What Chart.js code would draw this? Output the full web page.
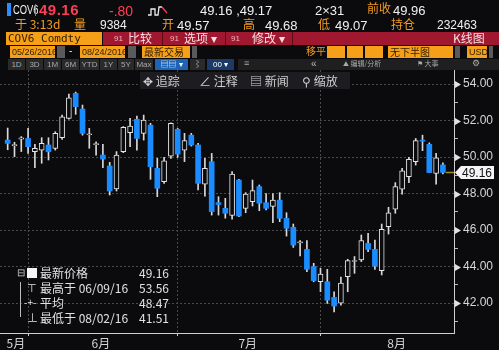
<!DOCTYPE html>
<html>
<head>
<meta charset="utf-8">
<script src="https://cdn.jsdelivr.net/npm/chart.js@4.4.0/dist/chart.umd.min.js"></script>
<style>
  body { margin: 0; background: #000; width: 499px; height: 350px; overflow: hidden; position: relative;
         font-family: "Liberation Sans", "Noto Sans CJK SC", sans-serif; }
  #box { position: absolute; left: 0; top: 0; width: 499px; height: 350px; }
  .t { position: absolute; white-space: nowrap; line-height: 1; }
  .o { color: #f39c1f; }
  .w { color: #f0f0f0; }
  .r { color: #ff3d55; }
  .cj { font-family: "Noto Sans CJK SC", sans-serif; }
  .amb { position: absolute; background: #f6a01a; color: #2e1d00; font-size: 9px; line-height: 12px; height: 12px; padding-left: 2px; box-sizing: border-box; white-space: nowrap; overflow: hidden; }
  .gr { position: absolute; background: #5a5a5a; height: 12px; }
  .btn { position: absolute; top: 59px; height: 11px; background: #2a2a2a; color: #a8a8a8; font-size: 8px; line-height: 11px; text-align: center; }
  .tool { position: absolute; top: 72px; height: 17px; background: #1d1d21; color: #cfcfcf; font-size: 12px; line-height: 17px; white-space: nowrap; }
  .lg { position: absolute; left: 15px; width: 154px; height: 15px; line-height: 15px; font-size: 12px; color: #e2e2e2; font-family: "Noto Sans CJK SC", sans-serif; white-space: nowrap; }
  .lg .v { position: absolute; right: 0; top: 0; }
  .lg .k { position: absolute; left: 25px; top: 0; }
</style>
</head>
<body>
<div id="box"><canvas id="chart"></canvas></div>

<!-- header row 1 -->
<div class="t" style="left:7px;top:3px;width:4px;height:13px;background:#2b8cff"></div>
<div class="t w" style="left:13px;top:4px;font-size:12px;transform:scaleX(0.78);transform-origin:left">COV6</div>
<div class="t" style="left:34px;top:3px;font-size:12px;color:#888">|</div>
<div class="t r" style="left:39px;top:2px;font-size:15px;font-weight:bold;letter-spacing:0.5px">49.16</div>
<div class="t r" style="left:109px;top:4px;font-size:14px">-.80</div>
<svg class="t" style="left:147px;top:4px" width="24" height="13"><polyline points="1,11 4,11 4,5 8,5 8,11 11,11 12,3 15,3" fill="none" stroke="#eee" stroke-width="1.3"/><polyline points="15,3 20,9" fill="none" stroke="#ff3d55" stroke-width="1.3"/></svg>
<div class="t w" style="left:200px;top:4px;font-size:13px">49.16 ,49.17</div>
<div class="t w" style="left:315px;top:4px;font-size:13px">2×31</div>
<div class="t o cj" style="left:367px;top:2px;font-size:12px">前收</div>
<div class="t w" style="left:393px;top:4px;font-size:13px">49.96</div>

<!-- header row 2 -->
<div class="t o cj" style="left:15px;top:18px;font-size:12px">于 3:13d</div>
<div class="t o cj" style="left:74px;top:18px;font-size:12px">量</div>
<div class="t w" style="left:100px;top:19px;font-size:12px">9384</div>
<div class="t o cj" style="left:162px;top:18px;font-size:12px">开</div>
<div class="t w" style="left:177px;top:19px;font-size:13px">49.57</div>
<div class="t o cj" style="left:243px;top:18px;font-size:12px">高</div>
<div class="t w" style="left:265px;top:19px;font-size:13px">49.68</div>
<div class="t o cj" style="left:318px;top:18px;font-size:12px">低</div>
<div class="t w" style="left:335px;top:19px;font-size:13px">49.07</div>
<div class="t o cj" style="left:391px;top:18px;font-size:12px">持仓</div>
<div class="t w" style="left:437px;top:19px;font-size:12px">232463</div>

<!-- header row 3 -->
<div class="amb" style="left:6px;top:32px;width:96px;height:13px;line-height:13px;font-size:11px;font-family:'DejaVu Sans Mono',monospace">COV6 Comdty</div>
<div class="t" style="left:103px;top:32px;width:396px;height:13px;background:#a01830"></div>
<div class="t" style="left:162px;top:32px;width:1px;height:13px;background:#5c0a18"></div>
<div class="t" style="left:225px;top:32px;width:1px;height:13px;background:#5c0a18"></div>
<div class="t" style="left:292px;top:32px;width:1px;height:13px;background:#5c0a18"></div>
<div class="t" style="left:114px;top:35px;font-size:8px;color:#f2b3bb">91</div>
<div class="t cj" style="left:128px;top:32px;font-size:12px;color:#f6dfe3">比较</div>
<div class="t" style="left:170px;top:35px;font-size:8px;color:#f2b3bb">91</div>
<div class="t cj" style="left:184px;top:32px;font-size:12px;color:#f6dfe3">选项 ▾</div>
<div class="t" style="left:231px;top:35px;font-size:8px;color:#f2b3bb">91</div>
<div class="t cj" style="left:252px;top:32px;font-size:12px;color:#f6dfe3">修改 ▾</div>
<div class="t cj" style="left:453px;top:32px;font-size:12px;color:#f6dfe3">K线图</div>

<!-- header row 4 -->
<div class="amb" style="left:10px;top:46px;width:45px">05/26/2016</div>
<div class="gr" style="left:57px;top:46px;width:8px"></div>
<div class="t w" style="left:69px;top:46px;font-size:10px">-</div>
<div class="amb" style="left:80px;top:46px;width:45px">08/24/2016</div>
<div class="gr" style="left:128px;top:46px;width:8px"></div>
<div class="amb cj" style="left:142px;top:46px;width:48px;font-size:10px">最新交易</div>
<div class="gr" style="left:192px;top:46px;width:5px"></div>
<div class="t o cj" style="left:306px;top:46px;font-size:10px">移平</div>
<div class="amb" style="left:327px;top:46px;width:18px"></div>
<div class="amb" style="left:347px;top:46px;width:16px"></div>
<div class="amb" style="left:365px;top:46px;width:18px"></div>
<div class="amb cj" style="left:388px;top:46px;width:65px;font-size:10px">无下半图</div>
<div class="gr" style="left:455px;top:46px;width:5px"></div>
<div class="amb" style="left:467px;top:46px;width:20px">USD</div>
<div class="gr" style="left:489px;top:46px;width:4px"></div>

<!-- header row 5 -->
<div class="btn" style="left:8px;width:17px">1D</div>
<div class="btn" style="left:26px;width:17px">3D</div>
<div class="btn" style="left:44px;width:17px">1M</div>
<div class="btn" style="left:62px;width:17px">6M</div>
<div class="btn" style="left:80px;width:19px">YTD</div>
<div class="btn" style="left:100px;width:17px">1Y</div>
<div class="btn" style="left:118px;width:16px">5Y</div>
<div class="btn" style="left:135px;width:18px">Max</div>
<div class="btn" style="left:155px;width:33px;background:#1f64b4;color:#fff">▤▤ ▾</div>
<div class="btn" style="left:190px;width:15px;color:#ccc">⌇</div>
<div class="btn" style="left:207px;width:27px;background:#1c3a66;color:#fff">00 ▾</div>
<div class="btn" style="left:238px;width:261px;background:#1f1f1f"></div>
<div class="t" style="left:244px;top:59px;font-size:9px;color:#aaa">≡</div>
<div class="t" style="left:311px;top:59px;font-size:10px;color:#bbb">«</div>
<div class="t cj" style="left:343px;top:60px;font-size:7px;color:#aaa">⛰ 编辑/分析</div>
<div class="t cj" style="left:417px;top:60px;font-size:7px;color:#aaa">⚑ 大事</div>
<div class="t" style="left:472px;top:59px;font-size:9px;color:#aaa">⚙</div>

<!-- chart tools overlay -->
<div class="tool cj" style="left:140px;width:210px"></div>
<div class="tool cj" style="left:143px;background:transparent">✥ 追踪</div>
<div class="tool cj" style="left:199px;background:transparent">∠ 注释</div>
<div class="tool cj" style="left:250px;background:transparent">▤ 新闻</div>
<div class="tool cj" style="left:302px;background:transparent">⚲ 缩放</div>

<!-- stats legend -->
<div class="t" style="left:20px;top:282px;width:4px;height:35px;border-left:1px solid #bbb"></div>
<div class="lg" style="top:265px"><span class="t" style="left:2px;top:2px;font-size:10px;color:#ccc">⊟</span><span class="t" style="left:12px;top:3px;width:10px;height:10px;background:#f4f4f4"></span><span class="k">最新价格</span><span class="v">49.16</span></div>
<div class="lg" style="top:280px"><span class="t" style="left:12px;top:2px;font-size:11px">⊤</span><span class="k">最高于 06/09/16</span><span class="v">53.56</span></div>
<div class="lg" style="top:295px"><span class="t" style="left:9px;top:2px;font-size:10px">-+-</span><span class="k">平均</span><span class="v">48.47</span></div>
<div class="lg" style="top:310px"><span class="t" style="left:12px;top:2px;font-size:11px">⊥</span><span class="k">最低于 08/02/16</span><span class="v">41.51</span></div>

<script>
// trading days shown (holiday sessions included, as on the terminal)
const dates = [
  '05/26','05/27','05/30','05/31',
  '06/01','06/02','06/03','06/06','06/07','06/08','06/09','06/10','06/13','06/14','06/15',
  '06/16','06/17','06/20','06/21','06/22','06/23','06/24','06/27','06/28','06/29','06/30',
  '07/01','07/04','07/05','07/06','07/07','07/08','07/11','07/12','07/13','07/14','07/15',
  '07/18','07/19','07/20','07/21','07/22','07/25','07/26','07/27','07/28','07/29',
  '08/01','08/02','08/03','08/04','08/05','08/08','08/09','08/10','08/11','08/12',
  '08/15','08/16','08/17','08/18','08/19','08/22','08/23','08/24'
];

const openP = [
  50.93, 50.62, 50.98, 51.02,
  50.29, 50.38, 50.66, 50.48, 51.06, 52.12, 53.49, 52.63, 51.22, 50.68, 50.11,
  49.51, 48.25, 50.29, 51.33, 52.07, 51.30, 51.75, 49.38, 48.65, 50.05, 51.52,
  50.38, 51.20, 50.66, 48.52, 49.75, 47.50, 47.19, 46.80, 48.74, 47.19, 47.56,
  48.38, 47.50, 47.30, 47.64, 46.64, 46.15, 45.30, 44.94, 44.00, 43.17,
  43.17, 42.31, 42.00, 43.45, 44.28, 44.36, 45.27, 44.94, 43.78, 46.18,
  47.14, 48.24, 48.93, 49.75, 50.93, 50.70, 49.10, 49.57
];
const highP = [
  51.59, 50.81, 51.12, 51.57,
  50.70, 51.06, 51.06, 51.39, 52.30, 53.45, 53.56, 52.85, 51.57, 50.84, 50.70,
  49.71, 50.30, 51.67, 52.12, 52.25, 52.30, 51.85, 49.93, 49.98, 51.88, 51.57,
  51.30, 51.30, 50.75, 49.93, 50.20, 47.83, 47.74, 49.20, 48.78, 48.05, 48.74,
  48.47, 48.00, 48.00, 48.05, 46.95, 46.33, 45.42, 45.42, 44.18, 43.90,
  43.85, 42.62, 43.43, 44.40, 44.55, 45.73, 45.82, 45.45, 46.33, 47.25,
  48.60, 49.38, 49.98, 51.02, 51.20, 50.78, 50.20, 49.68
];
const lowP = [
  50.40, 50.02, 50.30, 50.20,
  49.42, 49.66, 49.84, 50.38, 50.97, 52.08, 52.34, 51.20, 50.48, 50.10, 49.42,
  47.92, 48.14, 50.24, 50.57, 50.38, 50.93, 48.78, 47.83, 48.56, 49.93, 49.98,
  49.75, 50.60, 48.20, 47.86, 46.82, 46.82, 46.65, 46.60, 46.73, 46.95, 47.32,
  47.06, 47.10, 46.40, 46.46, 45.67, 45.05, 44.58, 43.72, 43.17, 42.62,
  41.98, 41.51, 41.88, 42.62, 43.63, 44.27, 44.82, 43.85, 43.54, 45.78,
  46.92, 47.97, 48.60, 49.56, 50.35, 49.15, 48.52, 49.07
];
const closeP = [
  50.75, 50.68, 51.06, 50.57,
  50.48, 50.75, 50.29, 51.30, 52.21, 53.25, 52.76, 51.30, 51.25, 50.72, 49.89,
  48.14, 50.11, 51.63, 51.70, 51.02, 52.03, 49.47, 48.29, 49.80, 51.85, 50.16,
  50.90, 50.66, 48.56, 49.38, 47.01, 47.40, 46.92, 49.07, 46.77, 47.97, 48.16,
  47.47, 47.19, 47.64, 46.64, 46.10, 45.18, 45.36, 43.85, 43.23, 43.59,
  42.16, 41.84, 43.10, 44.33, 44.33, 45.42, 44.94, 44.03, 46.04, 46.95,
  48.38, 49.25, 49.88, 50.90, 50.87, 49.15, 49.96, 49.16
];

// axis ticks
const yTicks = [41, 42, 43, 44, 45, 46, 47, 48, 49, 50, 51, 52, 53, 54];
const monthLabels = ['5月', '6月', '7月', '8月'];
const monthLabelAt = [1.2, 13.7, 35.3, 57.2];   // centre of each month's stretch
const monthEnds = [3, 25, 46];                  // last session of May, June, July

const BG = '#0b0b0e';
const BLUE = '#1a8cff';
const WHITE = '#e6e6e6';

const up = dates.map((d, i) => closeP[i] >= openP[i]);

const wicks = dates.map((d, i) => ({ x: i, y: [lowP[i], highP[i]] }));
const bodies = dates.map((d, i) => ({ x: i, y: [openP[i], closeP[i]] }));

// background + right-axis arrows + last price tag
const terminalPlugin = {
  id: 'terminal',
  beforeDraw(chart) {
    const { ctx, width, height } = chart;
    ctx.save();
    ctx.fillStyle = BG;
    ctx.fillRect(0, 0, width, height);
    ctx.restore();
  },
  afterDraw(chart) {
    const { ctx, chartArea, scales: { x, y } } = chart;
    ctx.save();
    // arrows on the major ticks
    ctx.fillStyle = '#e0e0e0';
    yTicks.filter(v => v % 2 === 0).forEach(v => {
      const py = Math.round(y.getPixelForValue(v)) + 0.5;
      ctx.beginPath();
      ctx.moveTo(chartArea.right + 1, py - 3.5);
      ctx.lineTo(chartArea.right + 7, py);
      ctx.lineTo(chartArea.right + 1, py + 3.5);
      ctx.closePath();
      ctx.fill();
    });
    // last price line + tag
    const last = closeP[closeP.length - 1];
    const ly = Math.round(y.getPixelForValue(last)) + 0.5;
    const lx = x.getPixelForValue(dates.length - 1) + 3;
    ctx.strokeStyle = '#a88c14';
    ctx.lineWidth = 1.5;
    ctx.beginPath();
    ctx.moveTo(lx, ly);
    ctx.lineTo(chartArea.right, ly);
    ctx.stroke();
    ctx.fillStyle = '#f4f4f4';
    ctx.beginPath();
    ctx.moveTo(chartArea.right + 1, ly);
    ctx.lineTo(chartArea.right + 7, ly - 6.5);
    ctx.lineTo(494, ly - 6.5);
    ctx.lineTo(494, ly + 6.5);
    ctx.lineTo(chartArea.right + 7, ly + 6.5);
    ctx.closePath();
    ctx.fill();
    ctx.fillStyle = '#111';
    ctx.font = '12px "Liberation Sans"';
    ctx.textBaseline = 'middle';
    ctx.fillText(last.toFixed(2), 462, ly + 1);
    ctx.restore();
  }
};

new Chart(document.getElementById('chart'), {
  type: 'bar',
  data: {
    datasets: [
      {
        label: 'wick',
        data: wicks,
        backgroundColor: '#d8d8d8',
        barThickness: 1,
        grouped: false,
        order: 2
      },
      {
        label: 'body',
        data: bodies,
        backgroundColor: up.map(u => u ? BG : BLUE),
        borderColor: up.map(u => u ? WHITE : BLUE),
        borderWidth: up.map(u => u ? 1 : 0),
        borderSkipped: false,
        barThickness: 5,
        minBarLength: 1,
        grouped: false,
        order: 1
      }
    ]
  },
  options: {
    responsive: true,
    maintainAspectRatio: false,
    animation: false,
    layout: { padding: { top: 70, left: 0, right: 0, bottom: 0 } },
    plugins: {
      legend: { display: false },
      tooltip: { enabled: false }
    },
    scales: {
      x: {
        type: 'linear',
        offset: false,
        min: -1.13,
        max: 65.63,
        afterBuildTicks: s => {
          s.ticks = [...monthLabelAt, ...monthEnds].sort((a, b) => a - b).map(v => ({ value: v }));
        },
        afterFit: s => { s.height = 17; },
        ticks: {
          autoSkip: false,
          maxRotation: 0,
          padding: 0,
          color: '#d4d4d4',
          font: { family: 'Noto Sans CJK SC', size: 12 },
          callback: v => {
            const k = monthLabelAt.indexOf(v);
            return k >= 0 ? monthLabels[k] : '';
          }
        },
        grid: {
          offset: false,
          color: c => (c.tick && monthEnds.includes(c.tick.value)) ? '#4a4a4a' : 'transparent',
          tickColor: c => (c.tick && monthEnds.includes(c.tick.value)) ? '#cfcfcf' : 'transparent',
          tickLength: 3
        },
        border: { color: '#cfcfcf', width: 1, dash: [2, 2] }
      },
      y: {
        position: 'right',
        min: 40.36,
        max: 54.77,
        afterBuildTicks: s => { s.ticks = yTicks.map(v => ({ value: v })); },
        afterFit: s => { s.width = 45; },
        ticks: {
          padding: 5,
          color: '#d6d6d6',
          font: { family: 'Liberation Sans', size: 12 },
          callback: v => (v % 2 === 0 ? v.toFixed(2) : '')
        },
        grid: {
          color: c => (c.tick && c.tick.value % 2 === 0) ? '#4a4a4a' : 'transparent',
          tickColor: '#bdbdbd',
          tickLength: 4
        },
        border: { color: '#cfcfcf', width: 1, dash: [2, 2] }
      }
    }
  },
  plugins: [terminalPlugin]
});
</script>
</body>
</html>
